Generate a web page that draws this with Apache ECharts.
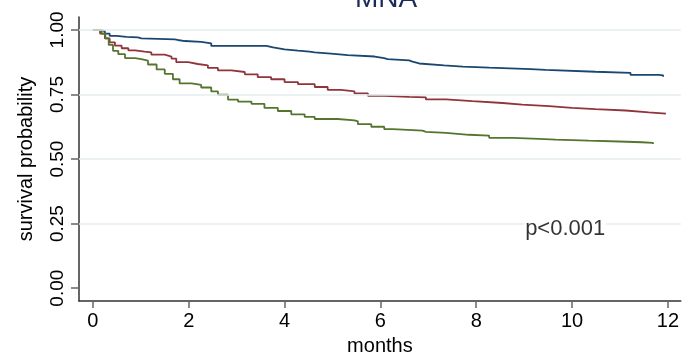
<!DOCTYPE html>
<html>
<head>
<meta charset="utf-8">
<script src="https://cdn.jsdelivr.net/npm/echarts@6/dist/echarts.min.js"></script>
<style>html,body{margin:0;padding:0;background:#fff;}#c{width:682px;height:361px;}</style>
</head>
<body>
<div id="c"></div>
<script>
var xTicks = [0, 2, 4, 6, 8, 10, 12];
var yTicks = [0, 0.25, 0.5, 0.75, 1];
var gridValues = [0.25, 0.5, 0.75, 1];

var timeNormal = [0, 0.15, 0.25, 0.35, 0.49, 0.70, 0.94, 1.01, 1.71, 1.77, 1.92, 2.26, 2.47, 3.62, 3.76, 4.0, 4.28, 4.52, 4.63, 4.97, 5.32, 5.88, 6.08, 6.15, 6.6, 6.67, 6.81, 7.33, 7.72, 8.27, 9.14, 9.45, 10.49, 11.22, 11.81, 11.9];
var survNormal = [1.0, 0.995, 0.986, 0.977, 0.973, 0.971, 0.967, 0.963, 0.961, 0.957, 0.954, 0.948, 0.938, 0.932, 0.925, 0.920, 0.916, 0.913, 0.908, 0.902, 0.897, 0.891, 0.887, 0.882, 0.877, 0.870, 0.863, 0.858, 0.854, 0.848, 0.845, 0.838, 0.834, 0.826, 0.824, 0.819];

var timeRisk = [0, 0.15, 0.25, 0.35, 0.46, 0.6, 0.74, 0.88, 1.08, 1.22, 1.5, 1.64, 1.74, 1.99, 2.19, 2.4, 2.61, 2.89, 3.17, 3.44, 3.72, 4.0, 4.28, 4.63, 4.9, 5.18, 5.46, 5.74, 6.08, 6.6, 6.95, 7.37, 7.92, 8.55, 8.96, 9.52, 10.0, 10.49, 11.12, 11.6, 11.96];
var survRisk = [1.0, 0.986, 0.967, 0.952, 0.939, 0.929, 0.921, 0.916, 0.913, 0.904, 0.897, 0.889, 0.875, 0.868, 0.863, 0.853, 0.843, 0.837, 0.828, 0.817, 0.809, 0.798, 0.790, 0.779, 0.768, 0.762, 0.754, 0.745, 0.741, 0.739, 0.731, 0.724, 0.717, 0.711, 0.705, 0.698, 0.693, 0.688, 0.681, 0.676, 0.674];

var timeMal = [0, 0.18, 0.26, 0.33, 0.42, 0.53, 0.67, 0.88, 1.01, 1.15, 1.33, 1.5, 1.67, 1.81, 2.06, 2.26, 2.47, 2.61, 2.82, 3.03, 3.31, 3.58, 3.86, 4.14, 4.42, 4.63, 5.11, 5.46, 5.53, 5.81, 6.08, 6.26, 6.88, 6.95, 7.37, 7.85, 8.27, 8.76, 9.31, 9.66, 10.35, 10.98, 11.46, 11.69];
var survMal = [1.0, 0.986, 0.967, 0.942, 0.919, 0.906, 0.891, 0.887, 0.881, 0.866, 0.847, 0.830, 0.809, 0.793, 0.787, 0.777, 0.762, 0.749, 0.730, 0.722, 0.714, 0.698, 0.686, 0.673, 0.663, 0.655, 0.650, 0.646, 0.635, 0.625, 0.616, 0.610, 0.605, 0.601, 0.594, 0.591, 0.582, 0.578, 0.575, 0.571, 0.568, 0.565, 0.563, 0.558];

var pText = 'p<0.001';
var pPos = [9, 0.228];

function pairs(t, s) { return t.map(function (v, i) { return [v, s[i]]; }); }

var FONT = 'Liberation Sans, Helvetica, Arial, sans-serif';
var chart = echarts.init(document.getElementById('c'), null, { renderer: 'canvas' });
chart.setOption({
  animation: false,
  backgroundColor: '#ffffff',
  title: {
    text: 'MNA', left: 381, top: -20, textAlign: 'center',
    textStyle: { fontFamily: FONT, fontSize: 28, fontWeight: 'normal', color: '#1a2b58' }
  },
  grid: { left: 79, right: 0, top: 17, bottom: 55, containLabel: false },
  xAxis: {
    type: 'value', min: -0.29, max: 12.27,
    name: 'months', nameLocation: 'middle', nameGap: 33,
    nameTextStyle: { fontFamily: FONT, fontSize: 20, color: '#000' },
    axisLine: { show: true, onZero: false, lineStyle: { color: '#333', width: 1.5 } },
    axisTick: { show: true, customValues: xTicks, length: 7, lineStyle: { color: '#666', width: 1.5 } },
    axisLabel: { customValues: xTicks, margin: 10, fontFamily: FONT, fontSize: 20, color: '#000' },
    splitLine: { show: false }
  },
  yAxis: {
    type: 'value', min: -0.05, max: 1.05,
    name: 'survival probability', nameLocation: 'middle', nameGap: 43, nameRotate: 90,
    nameTextStyle: { fontFamily: FONT, fontSize: 20, color: '#000' },
    axisLine: { show: true, onZero: false, lineStyle: { color: '#333', width: 1.5 } },
    axisTick: { show: true, customValues: yTicks, length: 8, lineStyle: { color: '#666', width: 1.5 } },
    axisLabel: { customValues: yTicks, rotate: 90, margin: 12, fontFamily: FONT, fontSize: 19, color: '#000',
      formatter: function (v) { return v.toFixed(2); } },
    splitLine: { show: false }
  },
  series: [
    {
      name: 'grid', type: 'line', data: [], silent: true,
      markLine: {
        silent: true, symbol: ['none', 'none'], label: { show: false },
        lineStyle: { color: '#e6eef1', width: 1.5, type: 'solid' },
        data: gridValues.map(function (v) { return { yAxis: v }; })
      }
    },
    { name: 'normal', type: 'line', step: 'end', showSymbol: false, data: pairs(timeNormal, survNormal),
      lineStyle: { color: '#1a476f', width: 1.8 }, itemStyle: { color: '#1a476f' } },
    { name: 'at risk', type: 'line', step: 'end', showSymbol: false, data: pairs(timeRisk, survRisk),
      lineStyle: { color: '#90353b', width: 1.8 }, itemStyle: { color: '#90353b' } },
    { name: 'malnourished', type: 'line', step: 'end', showSymbol: false, data: pairs(timeMal, survMal),
      lineStyle: { color: '#55752f', width: 1.8 }, itemStyle: { color: '#55752f' } },
    { name: 'p', type: 'scatter', symbolSize: 0, data: [pPos], silent: true, z: 5,
      label: { show: true, position: 'right', distance: 0, formatter: pText,
        backgroundColor: '#ffffff', padding: [0, 1],
        fontFamily: FONT, fontSize: 22, color: '#000' } }
  ]
});
</script>
</body>
</html>
